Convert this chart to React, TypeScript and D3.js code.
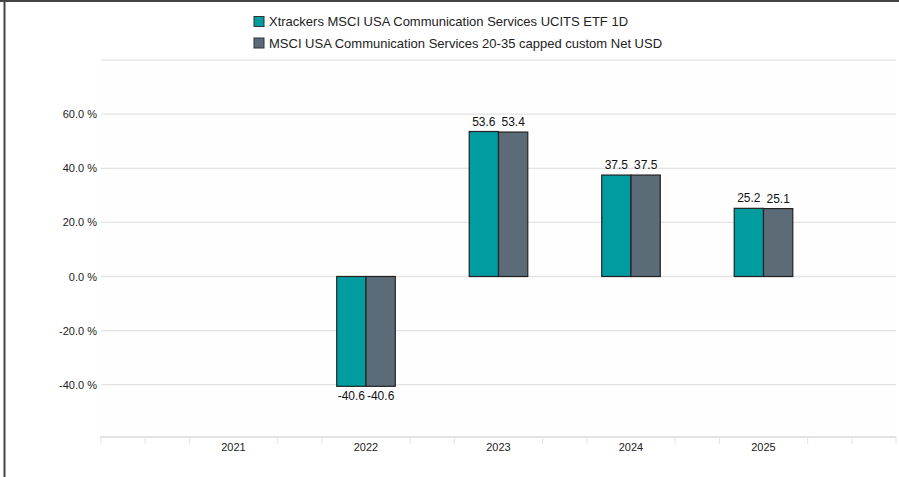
import React from "react";
import * as d3 from "d3";

const years = [2021, 2022, 2023, 2024, 2025];
const seriesNames = [
  "Xtrackers MSCI USA Communication Services UCITS ETF 1D",
  "MSCI USA Communication Services 20-35 capped custom Net USD",
];
const fundValues: (number | null)[] = [null, -40.6, 53.6, 37.5, 25.2];
const indexValues: (number | null)[] = [null, -40.6, 53.4, 37.5, 25.1];
const yLabelTicks = [-40, -20, 0, 20, 40, 60];
const yGridTicks = [-40, -20, 0, 20, 40, 60, 80];

const colors = ["#009c9f", "#5b6b78"];
const W = 899;
const H = 477;
const plot = { left: 101, right: 896, bottom: 437 };
const font = "'Liberation Sans', Arial, sans-serif";

export default function App() {
  const x = d3.scaleLinear().domain([2020, 2026]).range([plot.left, plot.right]);
  const y = d3.scaleLinear().domain([-40, 80]).range([384.7, 60.1]);
  const step = x(1) - x(0);
  const inner = d3
    .scaleBand<number>()
    .domain([0, 1])
    .range([-step * 0.221, step * 0.221]);

  const series = [fundValues, indexValues];
  const xTicks = d3.range(0, 19).map((i) => 2020 + i / 3);
  const fmt = (v: number) => `${v.toFixed(1)} %`;

  return (
    <svg
      width={W}
      height={H}
      style={{ position: "absolute", left: 0, top: 0, fontFamily: font }}
    >
      <rect x={0} y={0} width={W} height={H} fill="#fff" />
      <rect x={plot.left} y={60} width={plot.right - plot.left} height={plot.bottom - 60} fill="#fefefe" />
      {/* frame */}
      <line x1={0} x2={W} y1={1} y2={1} stroke="#444" strokeWidth={2} />
      <line x1={4.5} x2={4.5} y1={0} y2={H} stroke="#444" strokeWidth={2} />

      {/* legend */}
      {seriesNames.map((name, i) => {
        const cy = 21.5 + i * 21.5;
        return (
          <g key={name}>
            <rect x={254} y={cy - 5} width={10} height={10} fill={colors[i]} stroke="#333" strokeWidth={1} />
            <text x={269} y={cy + 4.5} fontSize={13} fill="#222">
              {name}
            </text>
          </g>
        );
      })}

      {/* grid */}
      {yGridTicks.map((t) => (
        <line key={t} x1={plot.left} x2={plot.right} y1={y(t)} y2={y(t)} stroke="#e3e3e3" strokeWidth={1.3} />
      ))}
      {yLabelTicks.map((t) => (
        <text key={t} x={97} y={y(t) + 4} fontSize={11} fill="#222" textAnchor="end">
          {fmt(t)}
        </text>
      ))}

      {/* x axis */}
      <line x1={plot.left - 1} x2={plot.right} y1={plot.bottom} y2={plot.bottom} stroke="#e3e3e3" strokeWidth={2} />
      {xTicks
        .filter((t) => !years.some((yr) => Math.abs(yr - t) < 0.01))
        .map((t) => (
          <line key={t} x1={x(t)} x2={x(t)} y1={plot.bottom} y2={plot.bottom + 7} stroke="#e3e3e3" strokeWidth={1} />
        ))}
      {years.map((yr) => (
        <text key={yr} x={x(yr)} y={plot.bottom + 13.5} fontSize={11} fill="#222" textAnchor="middle">
          {yr}
        </text>
      ))}

      {/* bars */}
      {years.map((yr, i) =>
        series.map((vals, s) => {
          const v = vals[i];
          if (v === null) return null;
          const bx = x(yr) + (inner(s) as number);
          const bw = inner.bandwidth();
          const y0 = y(0);
          const y1 = y(v);
          return (
            <g key={`${yr}-${s}`}>
              <rect
                x={bx}
                y={Math.min(y0, y1)}
                width={bw}
                height={Math.abs(y1 - y0)}
                fill={colors[s]}
                stroke="#222"
                strokeWidth={1.2}
              />
              <text
                x={bx + bw / 2}
                y={v >= 0 ? y1 - 6 : y1 + 14}
                fontSize={12}
                fill="#111"
                textAnchor="middle"
              >
                {v.toFixed(1)}
              </text>
            </g>
          );
        })
      )}
    </svg>
  );
}
